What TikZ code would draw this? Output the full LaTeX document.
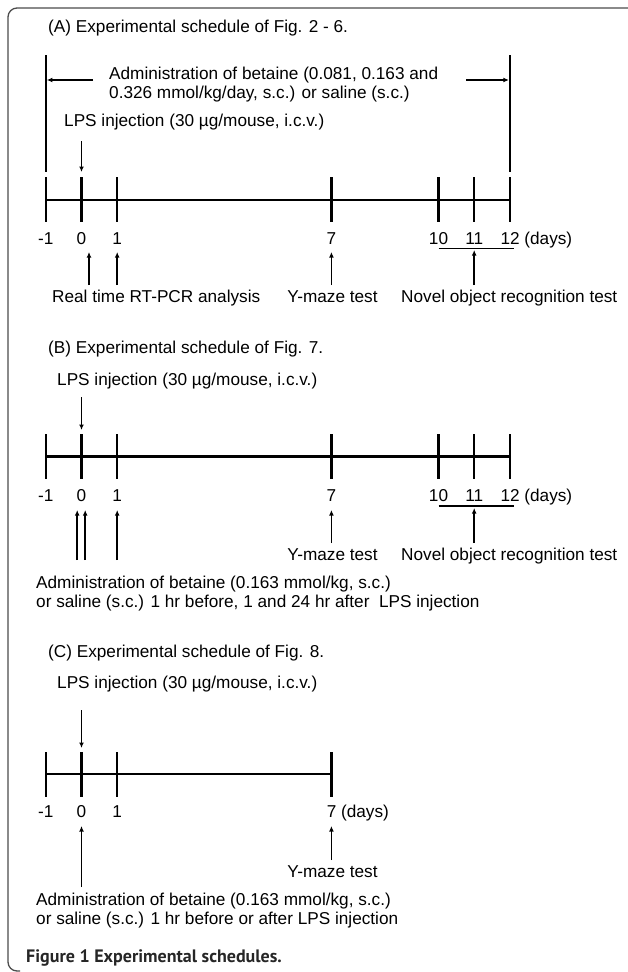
\documentclass[tikz,border=0pt]{standalone}
\usepackage{fontspec}
\setmainfont{Liberation Sans}
\newfontfamily\capfont{PT Sans}
\usetikzlibrary{arrows.meta}
\begin{document}
\begin{tikzpicture}[x=1pt,y=-1pt,
  lbl/.style={inner sep=0pt, anchor=base west, font=\fontsize{17.2}{19}\selectfont},
  num/.style={inner sep=0pt, anchor=base, font=\fontsize{17.2}{19}\selectfont},
  axisline/.style={line width=2.2pt},
  tickline/.style={line width=2.2pt},
  arr/.style={line width=1.5pt, -{Latex[length=5.5pt,width=4.8pt]}},
]
\useasboundingbox (0,0) rectangle (627,972);
\draw[line width=1.3pt, black!70, rounded corners=9pt] (630,8) -| (8,971) -- (20,971);

% ---------------- Panel A ----------------
\node[lbl] (tA) at (48,32) {(A) Experimental schedule of Fig. 2 - 6.};
\coordinate (Avl1) at (45.8,55);  \coordinate (Avl2) at (45.8,172);
\coordinate (Avr1) at (509.9,55); \coordinate (Avr2) at (509.9,172);
\draw[tickline] (Avl1) -- (Avl2);
\draw[tickline] (Avr1) -- (Avr2);
\node[lbl] (admA1) at (109,79) {Administration of betaine (0.081, 0.163 and};
\node[lbl] (admA2) at (109,98) {0.326 mmol/kg/day, s.c.) or saline (s.c.)};
\coordinate (aL0) at (93,80);  \coordinate (aL1) at (46.8,80);
\coordinate (aR0) at (466,80); \coordinate (aR1) at (508.9,80);
\draw[arr] (aL0) -- (aL1);
\draw[arr] (aR0) -- (aR1);
\node[lbl] (lpsA) at (64,126) {LPS injection (30 µg/mouse, i.c.v.)};
\coordinate (lA0) at (81.5,141); \coordinate (lA1) at (81.5,172);
\draw[arr] (lA0) -- (lA1);
\coordinate (axA0) at (45.8,200); \coordinate (axA1) at (509.9,200);
\draw[axisline] (axA0) -- (axA1);
\foreach \x in {45.8,81.5,117.2,331.4,438.5,474.2,509.9}
  \draw[tickline] (\x,177) -- (\x,222);
\node[num] (nAm1) at (45.8,244) {-1};
\node[num] (nA0) at (81.5,244) {0};
\node[num] (nA1) at (117.2,244) {1};
\node[num] (nA7) at (331.4,244) {7};
\node[num] (nA10) at (438.5,244) {10};
\node[num] (nA11) at (474.2,244) {11};
\node[lbl] (nA12) at (500.3,244) {12 (days)};
\coordinate (uA0) at (438.5,248.5); \coordinate (uA1) at (514,248.5);
\draw[line width=1.8pt] (uA0) -- (uA1);
\node[lbl] (rtA) at (52,302) {Real time RT-PCR analysis};
\node[num] (ymA) at (332.5,302) {Y-maze test};
\node[lbl] (noA) at (401,302) {Novel object recognition test};
\coordinate (pA0t) at (89,285);    \coordinate (pA0h) at (89,252);
\coordinate (pA1t) at (117.2,285); \coordinate (pA1h) at (117.2,252);
\coordinate (pA7t) at (331.4,285); \coordinate (pA7h) at (331.4,252);
\coordinate (pA11t) at (474.2,285);\coordinate (pA11h) at (474.2,250);
\draw[arr] (pA0t) -- (pA0h);
\draw[arr] (pA1t) -- (pA1h);
\draw[arr] (pA7t) -- (pA7h);
\draw[arr] (pA11t) -- (pA11h);

% ---------------- Panel B ----------------
\node[lbl] (tB) at (48,353) {(B) Experimental schedule of Fig. 7.};
\node[lbl] (lpsB) at (57,385) {LPS injection (30 µg/mouse, i.c.v.)};
\coordinate (lB0) at (81.5,397); \coordinate (lB1) at (81.5,430);
\draw[arr] (lB0) -- (lB1);
\coordinate (axB0) at (45.8,456.5); \coordinate (axB1) at (509.9,456.5);
\draw[axisline] (axB0) -- (axB1);
\foreach \x in {45.8,81.5,117.2,331.4,438.5,474.2,509.9}
  \draw[tickline] (\x,434) -- (\x,479);
\node[num] (nBm1) at (45.8,501.5) {-1};
\node[num] (nB0) at (81.5,501.5) {0};
\node[num] (nB1) at (117.2,501.5) {1};
\node[num] (nB7) at (331.4,501.5) {7};
\node[num] (nB10) at (438.5,501.5) {10};
\node[num] (nB11) at (474.2,501.5) {11};
\node[lbl] (nB12) at (500.3,501.5) {12 (days)};
\coordinate (uB0) at (438.5,506); \coordinate (uB1) at (514,506);
\draw[line width=1.8pt] (uB0) -- (uB1);
\coordinate (pBat) at (77.2,560);  \coordinate (pBah) at (77.2,510);
\coordinate (pBbt) at (85.2,560);  \coordinate (pBbh) at (85.2,510);
\coordinate (pB1t) at (117.2,560); \coordinate (pB1h) at (117.2,510);
\coordinate (pB7t) at (331.4,543); \coordinate (pB7h) at (331.4,510);
\coordinate (pB11t) at (474.2,543);\coordinate (pB11h) at (474.2,508);
\draw[arr] (pBat) -- (pBah);
\draw[arr] (pBbt) -- (pBbh);
\draw[arr] (pB1t) -- (pB1h);
\draw[arr] (pB7t) -- (pB7h);
\draw[arr] (pB11t) -- (pB11h);
\node[num] (ymB) at (332.5,560) {Y-maze test};
\node[lbl] (noB) at (401,560) {Novel object recognition test};
\node[lbl] (admB1) at (36,588) {Administration of betaine (0.163 mmol/kg, s.c.)};
\node[lbl] (admB2) at (36,607) {or saline (s.c.) 1 hr before, 1 and 24 hr after~ LPS injection};

% ---------------- Panel C ----------------
\node[lbl] (tC) at (48,657) {(C) Experimental schedule of Fig. 8.};
\node[lbl] (lpsC) at (57,688) {LPS injection (30 µg/mouse, i.c.v.)};
\coordinate (lC0) at (81.5,710); \coordinate (lC1) at (81.5,748);
\draw[arr] (lC0) -- (lC1);
\coordinate (axC0) at (45.8,774); \coordinate (axC1) at (331.4,774);
\draw[axisline] (axC0) -- (axC1);
\foreach \x in {45.8,81.5,117.2,331.4}
  \draw[tickline] (\x,752) -- (\x,797);
\node[num] (nCm1) at (45.8,817) {-1};
\node[num] (nC0) at (81.5,817) {0};
\node[num] (nC1) at (117.2,817) {1};
\node[lbl] (nC7) at (326.6,817) {7 (days)};
\coordinate (pC0t) at (81.5,887);  \coordinate (pC0h) at (81.5,826);
\coordinate (pC7t) at (331.4,860); \coordinate (pC7h) at (331.4,826);
\draw[arr] (pC0t) -- (pC0h);
\draw[arr] (pC7t) -- (pC7h);
\node[num] (ymC) at (332.5,877) {Y-maze test};
\node[lbl] (admC1) at (36,905) {Administration of betaine (0.163 mmol/kg, s.c.)};
\node[lbl] (admC2) at (36,924) {or saline (s.c.) 1 hr before or after LPS injection};

% caption
\node[inner sep=0pt, anchor=base west, text=black!85, font=\capfont\bfseries\fontsize{18}{20}\selectfont] (cap) at (26,962) {Figure 1 Experimental schedules.};
\end{tikzpicture}
\end{document}
